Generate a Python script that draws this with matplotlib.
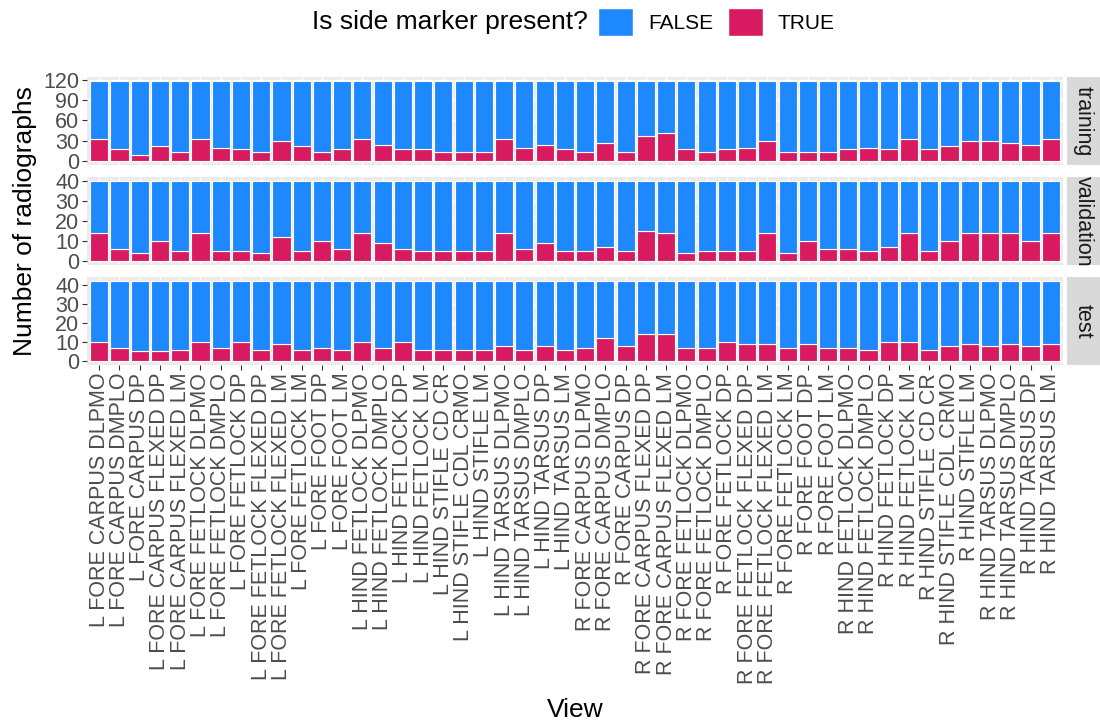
import numpy as np
import matplotlib.pyplot as plt
from matplotlib.patches import Patch

views = [
    'L FORE CARPUS DLPMO', 'L FORE CARPUS DMPLO', 'L FORE CARPUS DP',
    'L FORE CARPUS FLEXED DP', 'L FORE CARPUS FLEXED LM', 'L FORE FETLOCK DLPMO',
    'L FORE FETLOCK DMPLO', 'L FORE FETLOCK DP', 'L FORE FETLOCK FLEXED DP',
    'L FORE FETLOCK FLEXED LM', 'L FORE FETLOCK LM', 'L FORE FOOT DP',
    'L FORE FOOT LM', 'L HIND FETLOCK DLPMO', 'L HIND FETLOCK DMPLO',
    'L HIND FETLOCK DP', 'L HIND FETLOCK LM', 'L HIND STIFLE CD CR',
    'L HIND STIFLE CDL CRMO', 'L HIND STIFLE LM', 'L HIND TARSUS DLPMO',
    'L HIND TARSUS DMPLO', 'L HIND TARSUS DP', 'L HIND TARSUS LM',
    'R FORE CARPUS DLPMO', 'R FORE CARPUS DMPLO', 'R FORE CARPUS DP',
    'R FORE CARPUS FLEXED DP', 'R FORE CARPUS FLEXED LM', 'R FORE FETLOCK DLPMO',
    'R FORE FETLOCK DMPLO', 'R FORE FETLOCK DP', 'R FORE FETLOCK FLEXED DP',
    'R FORE FETLOCK FLEXED LM', 'R FORE FETLOCK LM', 'R FORE FOOT DP',
    'R FORE FOOT LM', 'R HIND FETLOCK DLPMO', 'R HIND FETLOCK DMPLO',
    'R HIND FETLOCK DP', 'R HIND FETLOCK LM', 'R HIND STIFLE CD CR',
    'R HIND STIFLE CDL CRMO', 'R HIND STIFLE LM', 'R HIND TARSUS DLPMO',
    'R HIND TARSUS DMPLO', 'R HIND TARSUS DP', 'R HIND TARSUS LM',
]

# side marker present (TRUE) / absent (FALSE) counts per split
train_true = [32, 17, 9, 22, 14, 32, 19, 17, 14, 29, 22, 14, 17, 32, 24, 17,
              17, 14, 14, 14, 32, 19, 24, 17, 14, 27, 14, 37, 42, 17, 14, 17,
              19, 29, 14, 14, 14, 17, 19, 17, 32, 17, 22, 29, 29, 27, 24, 32]
train_false = [86, 101, 109, 96, 104, 86, 99, 101, 104, 89, 96, 104, 101, 86, 94, 101,
               101, 104, 104, 104, 86, 99, 94, 101, 104, 91, 104, 81, 76, 101, 104, 101,
               99, 89, 104, 104, 104, 101, 99, 101, 86, 101, 96, 89, 89, 91, 94, 86]

val_true = [14, 6, 4, 10, 5, 14, 5, 5, 4, 12, 5, 10, 6, 14, 9, 6,
            5, 5, 5, 5, 14, 6, 9, 5, 5, 7, 5, 15, 14, 4, 5, 5,
            5, 14, 4, 10, 6, 6, 5, 7, 14, 5, 10, 14, 14, 14, 10, 14]
val_false = [26, 34, 36, 30, 35, 26, 35, 35, 36, 28, 35, 30, 34, 26, 31, 34,
             35, 35, 35, 35, 26, 34, 31, 35, 35, 33, 35, 25, 26, 36, 35, 35,
             35, 26, 36, 30, 34, 34, 35, 33, 26, 35, 30, 26, 26, 26, 30, 26]

test_true = [10, 7, 5, 5, 6, 10, 7, 10, 6, 9, 6, 7, 6, 10, 7, 10,
             6, 6, 6, 6, 8, 6, 8, 6, 7, 12, 8, 14, 14, 7, 7, 10,
             9, 9, 7, 9, 7, 7, 6, 10, 10, 6, 8, 9, 8, 9, 8, 9]
test_false = [32, 35, 37, 37, 36, 32, 35, 32, 36, 33, 36, 35, 36, 32, 35, 32,
              36, 36, 36, 36, 34, 36, 34, 36, 35, 30, 34, 28, 28, 35, 35, 32,
              33, 33, 35, 33, 35, 35, 36, 32, 32, 36, 34, 33, 34, 33, 34, 33]

col_false = '#1E88FF'
col_true = '#D81B60'

plt.rcParams['font.family'] = ['Liberation Sans', 'DejaVu Sans']

W, H = 1100, 726
fig = plt.figure(figsize=(W / 100, H / 100), dpi=100)


def box(l, t, r, b):
    return [l / W, 1 - b / H, (r - l) / W, (b - t) / H]


panels = [
    ('training', train_true, train_false, [0, 30, 60, 90, 120], 77, 165),
    ('validation', val_true, val_false, [0, 10, 20, 30, 40], 177, 265),
    ('test', test_true, test_false, [0, 10, 20, 30, 40], 277, 365),
]

x = np.arange(len(views))
for i, (name, tr, fa, yt, top, bot) in enumerate(panels):
    ax = fig.add_axes(box(87, top, 1063, bot))
    ax.set_facecolor('#EBEBEB')
    ax.bar(x, tr, width=0.9, color=col_true, edgecolor='white', linewidth=0.8)
    ax.bar(x, fa, bottom=tr, width=0.9, color=col_false, edgecolor='white', linewidth=0.8)
    ymax = max(np.add(tr, fa))
    ax.set_ylim(-0.05 * ymax, 1.05 * ymax)
    ax.set_xlim(-0.6, len(views) - 0.4)
    ax.set_yticks(yt)
    ax.set_xticks(x)
    ax.grid(color='white', linewidth=1.0)
    ax.set_axisbelow(True)
    for s in ax.spines.values():
        s.set_visible(False)
    ax.tick_params(axis='both', colors='#333333', labelcolor='#4D4D4D',
                   labelsize=15.5, length=3.5, width=0.8, pad=2)
    if i < 2:
        ax.set_xticklabels([])
        ax.tick_params(axis='x', length=0)
    else:
        ax.set_xticklabels(views, rotation=90, ha='center', va='top')

    sax = fig.add_axes(box(1067, top, 1100, bot))
    sax.set_facecolor('#D9D9D9')
    sax.set_xticks([])
    sax.set_yticks([])
    for s in sax.spines.values():
        s.set_visible(False)
    sax.text(0.5, 0.5, name, rotation=-90, ha='center', va='center',
             fontsize=15.5, color='#1A1A1A', transform=sax.transAxes)

fig.text(25 / W, 1 - 221 / H, 'Number of radiographs', rotation=90,
         ha='center', va='center', fontsize=19)
fig.text(575 / W, 1 - 710 / H, 'View', ha='center', va='center', fontsize=19)

fig.text(312 / W, 1 - 22 / H, 'Is side marker present?', ha='left', va='center', fontsize=19)
handles = [Patch(facecolor=col_false, edgecolor='white'),
           Patch(facecolor=col_true, edgecolor='white')]
fig.legend(handles, ['FALSE', 'TRUE'], ncol=2, loc='center left',
           bbox_to_anchor=(598 / W, 1 - 22 / H), frameon=False, fontsize=15,
           handlelength=1.7, handleheight=1.7, handletextpad=0.7,
           columnspacing=0.7, borderpad=0, borderaxespad=0)

fig.savefig('out.png', dpi=100)
